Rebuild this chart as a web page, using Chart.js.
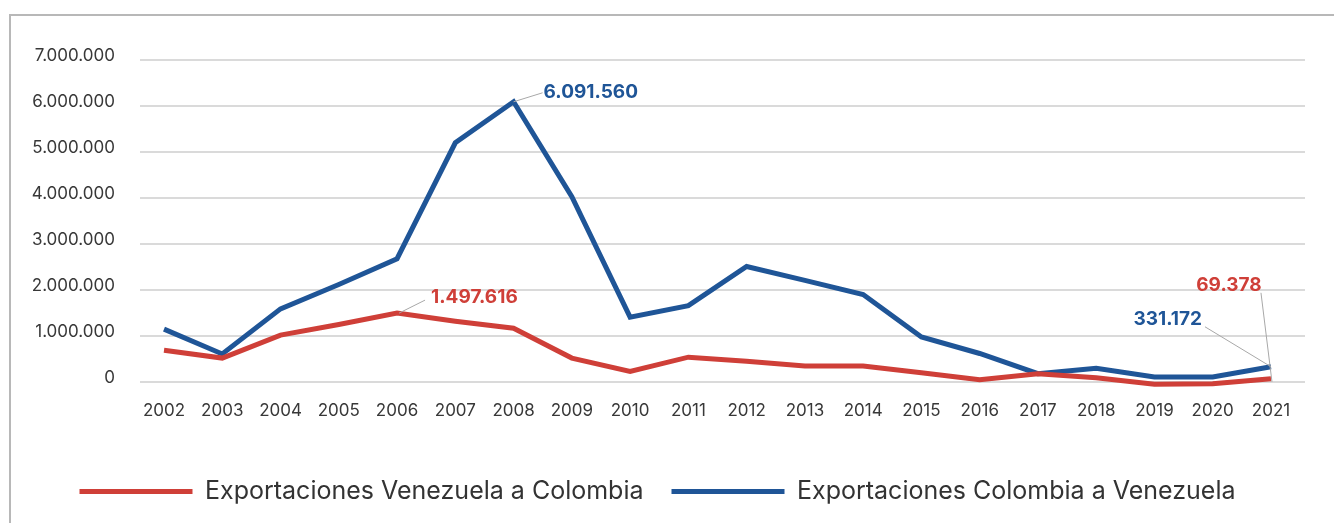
<!DOCTYPE html>
<html>
<head>
<meta charset="utf-8">
<script src="https://cdn.jsdelivr.net/npm/chart.js@4.4.1/dist/chart.umd.min.js"></script>
<style>
html,body{margin:0;padding:0;background:#fff;overflow:hidden;}
#wrap{position:relative;width:1334px;height:523px;}
#frame{position:absolute;left:9px;top:14px;width:1400px;height:600px;border:2px solid #b8b8b8;box-sizing:border-box;}
canvas{position:absolute;left:0;top:0;}
</style>
</head>
<body>
<div id="wrap"><div id="frame"></div><canvas id="c" width="1334" height="523"></canvas></div>
<script>
// ---- data ----
const years = [2002,2003,2004,2005,2006,2007,2008,2009,2010,2011,2012,2013,2014,2015,2016,2017,2018,2019,2020,2021];
const exportacionesVenezuelaColombia = [690000,520000,1020000,1250000,1497616,1320000,1170000,520000,230000,540000,450000,350000,350000,200000,50000,180000,90000,-50000,-40000,69378];
const exportacionesColombiaVenezuela = [1150000,610000,1590000,2120000,2680000,5200000,6091560,4030000,1410000,1660000,2510000,2210000,1900000,980000,620000,180000,300000,110000,110000,331172];
const yTickValues = [0,1000000,2000000,3000000,4000000,5000000,6000000,7000000];
const seriesNames = ['Exportaciones Venezuela a Colombia','Exportaciones Colombia a Venezuela'];
const annotatedPoints = [[1,2008],[0,2006],[1,2021],[0,2021]]; // [series, year]

// ---- styles ----
const RED = '#CF3F38';
const BLUE = '#1F5597';
const seriesColors = [RED, BLUE];
const annotStyles = [
  {tx:30, ty:-10, align:'left',   line:[[0,0],[29,-9]]},
  {tx:34, ty:-16, align:'left',   line:[[2,0],[28,-13]]},
  {tx:-69,ty:-47, align:'right',  line:[[-66,-40],[0,0]]},
  {tx:-42,ty:-94, align:'center', line:[[-10,-86],[1,3]]}
];

const fmt = v => String(Math.round(v)).replace(/\B(?=(\d{3})+(?!\d))/g, '.');
const seriesData = [exportacionesVenezuelaColombia, exportacionesColombiaVenezuela];

const annotPlugin = {
  id: 'annot',
  afterDatasetsDraw(chart) {
    const ctx = chart.ctx;
    ctx.save();
    annotatedPoints.forEach(([s, yr], k) => {
      const idx = years.indexOf(yr);
      const pt = chart.getDatasetMeta(s).data[idx];
      const st = annotStyles[k];
      ctx.strokeStyle = '#a8a8a8';
      ctx.lineWidth = 1;
      ctx.beginPath();
      ctx.moveTo(pt.x + st.line[0][0], pt.y + st.line[0][1]);
      ctx.lineTo(pt.x + st.line[1][0], pt.y + st.line[1][1]);
      ctx.stroke();
      ctx.fillStyle = seriesColors[s];
      ctx.font = 'bold 19px Inter';
      ctx.textAlign = st.align;
      ctx.textBaseline = 'middle';
      ctx.fillText(fmt(seriesData[s][idx]), pt.x + st.tx, pt.y + st.ty);
    });
    ctx.restore();
  }
};

new Chart(document.getElementById('c'), {
  type: 'line',
  data: {
    datasets: seriesData.map((arr, s) => ({
      label: seriesNames[s],
      data: years.map((yr, i) => ({x: yr, y: arr[i]})),
      borderColor: seriesColors[s],
      backgroundColor: seriesColors[s],
      borderWidth: 5,
      pointRadius: 0,
      tension: 0,
      clip: false
    }))
  },
  options: {
    responsive: false,
    animation: false,
    devicePixelRatio: 1,
    layout: {padding: {left: 10, right: 29, top: 60, bottom: 9}},
    scales: {
      x: {
        type: 'linear',
        min: 2001.588, max: 2021.584,
        afterBuildTicks: s => { s.ticks = years.map(v => ({value: v})); },
        afterFit: s => { s.height = 69; },
        grid: {display: false, drawTicks: false},
        border: {display: false},
        ticks: {padding: 19, color: '#383838', font: {family: 'Inter', size: 17}, autoSkip: false, maxRotation: 0, callback: v => String(v)}
      },
      y: {
        min: 0, max: 7000000,
        afterBuildTicks: s => { s.ticks = yTickValues.map(v => ({value: v})); },
        afterFit: s => { s.width = 130; },
        grid: {color: '#dadada', lineWidth: 2, drawTicks: false},
        border: {display: false},
        ticks: {padding: 25, labelOffset: -4, color: '#383838', font: {family: 'Inter', size: 17}, callback: v => fmt(v)}
      }
    },
    plugins: {
      legend: {
        position: 'bottom',
        labels: {
          boxWidth: 113, boxHeight: 5, padding: 28, color: '#333',
          font: {family: 'Inter', size: 25},
          generateLabels: chart => chart.data.datasets.map((d, i) => ({
            text: d.label, fillStyle: d.borderColor, strokeStyle: d.borderColor,
            lineWidth: 0, hidden: false, datasetIndex: i, fontColor: '#333'
          }))
        }
      },
      tooltip: {enabled: false}
    }
  },
  plugins: [annotPlugin]
});
</script>
</body>
</html>
